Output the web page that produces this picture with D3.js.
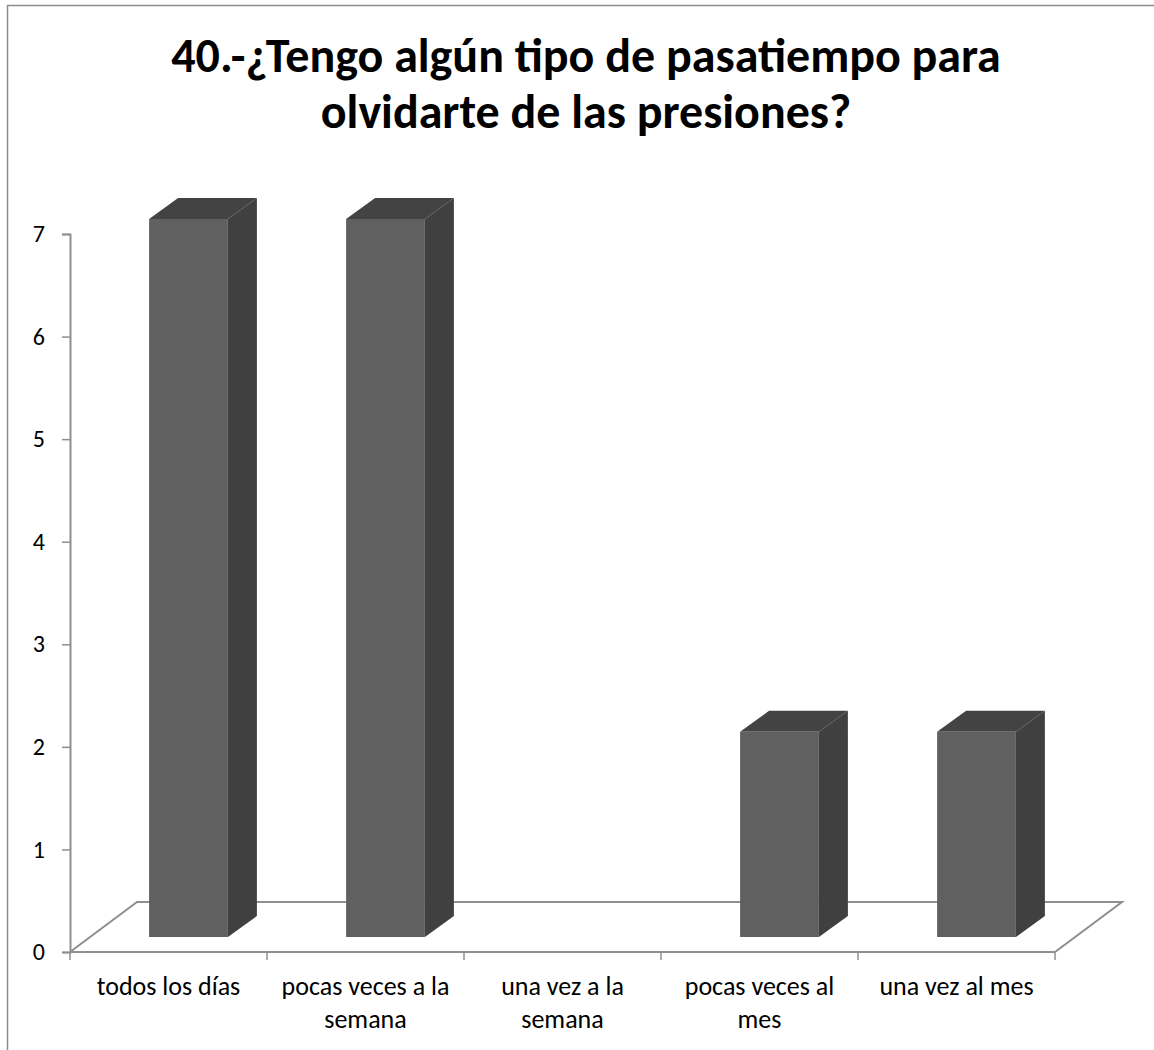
<!DOCTYPE html>
<html>
<head>
<meta charset="utf-8">
<script src="https://cdn.jsdelivr.net/npm/d3@7"></script>
<style>
  html, body { margin: 0; padding: 0; background: #fff; }
  svg { display: block; }
  text { font-family: Calibri, Carlito, Lato, sans-serif; fill: #000; }
</style>
</head>
<body>
<svg id="chart" width="1154" height="1050"></svg>
<script>
// Survey question 40: answer categories and number of responses
const categories = ["todos los días", "pocas veces a la semana", "una vez a la semana", "pocas veces al mes", "una vez al mes"];
const counts = [7, 7, 0, 2, 2];
const yTicks = [0, 1, 2, 3, 4, 5, 6, 7];
const titleLines = ["40.-¿Tengo algún tipo de pasatiempo para", "olvidarte de las presiones?"];

const svg = d3.select("#chart");
const fontStack = "Calibri, Carlito, Lato, sans-serif";

// chart area frame
svg.append("rect")
  .attr("x", 7.5).attr("y", 5.5)
  .attr("width", 1200).attr("height", 1100)
  .attr("fill", "none").attr("stroke", "#8c8c8c").attr("stroke-width", 1.5);

// title
svg.append("text")
  .attr("x", 586).attr("y", 72)
  .attr("text-anchor", "middle")
  .style("font-weight", "bold").style("font-size", "48px")
  .selectAll("tspan").data(titleLines).join("tspan")
  .attr("x", 586).attr("dy", (d, i) => i === 0 ? 0 : 56)
  .text(d => d);

// plot geometry
const plotLeft = 70, plotRight = 1055, plotBottom = 952, plotTop = 234;
const floorDepth = { dx: 67, dy: -50 };   // oblique depth of the floor
const barOffset = { dx: 20, dy: -15 };    // where the bar fronts sit inside the floor
const barDepth = { dx: 29, dy: -21 };     // depth of each bar box

const x = d3.scaleBand().domain(categories).range([plotLeft, plotRight])
  .paddingInner(0.6).paddingOuter(0.3);
const y = d3.scaleLinear().domain([0, 7]).range([plotBottom, plotTop]);

const axisColor = "#8f8f8f";

// floor
svg.append("path")
  .attr("d", d3.line()([
    [plotLeft, plotBottom], [plotRight, plotBottom],
    [plotRight + floorDepth.dx, plotBottom + floorDepth.dy],
    [plotLeft + floorDepth.dx, plotBottom + floorDepth.dy],
    [plotLeft, plotBottom]
  ]))
  .attr("fill", "none").attr("stroke", axisColor).attr("stroke-width", 2);

// y axis
const yAxis = svg.append("g")
  .attr("transform", `translate(${plotLeft},0)`)
  .call(d3.axisLeft(y).tickValues(yTicks).tickFormat(d3.format("d")).tickSize(8).tickPadding(17));
yAxis.select(".domain").attr("stroke", axisColor).attr("stroke-width", 2);
yAxis.selectAll(".tick line").attr("stroke", axisColor).attr("stroke-width", 1.5);
yAxis.selectAll(".tick text").style("font-size", "24px").attr("fill", "#000")
  .style("font-family", fontStack);

// x axis: tick marks between categories
const xBounds = d3.range(categories.length + 1).map(i => plotLeft + i * x.step());
svg.append("g").selectAll("line").data(xBounds).join("line")
  .attr("x1", d => d).attr("x2", d => d)
  .attr("y1", plotBottom).attr("y2", plotBottom + 8)
  .attr("stroke", axisColor).attr("stroke-width", 1.5);

// category labels, wrapped to the band width
const labelWidth = 170;
const labels = svg.append("g").selectAll("text").data(categories).join("text")
  .attr("text-anchor", "middle")
  .style("font-size", "26px")
  .attr("x", d => x(d) + x.bandwidth() / 2)
  .attr("y", 995);
labels.each(function (d) {
  const t = d3.select(this);
  const cx = x(d) + x.bandwidth() / 2;
  const words = d.split(" ");
  let line = [];
  let tspan = t.append("tspan").attr("x", cx).attr("dy", 0);
  for (const w of words) {
    line.push(w);
    tspan.text(line.join(" "));
    if (tspan.node().getComputedTextLength() > labelWidth && line.length > 1) {
      line.pop();
      tspan.text(line.join(" "));
      line = [w];
      tspan = t.append("tspan").attr("x", cx).attr("dy", 33).text(w);
    }
  }
});

// 3D bars: front, side and top faces
const data = categories.map((c, i) => ({ cat: c, value: counts[i] })).filter(d => d.value > 0);
const bars = svg.append("g").selectAll("g").data(data).join("g");

const geom = d => {
  const x0 = x(d.cat) + barOffset.dx;
  const x1 = x0 + x.bandwidth();
  const yB = y(0) + barOffset.dy;
  const yT = y(d.value) + barOffset.dy;
  return { x0, x1, yB, yT };
};

bars.append("path")
  .attr("d", d => {
    const g = geom(d);
    return d3.line()([[g.x1, g.yT], [g.x1 + barDepth.dx, g.yT + barDepth.dy],
      [g.x1 + barDepth.dx, g.yB + barDepth.dy], [g.x1, g.yB]]) + "Z";
  })
  .attr("fill", "#404040");

bars.append("path")
  .attr("d", d => {
    const g = geom(d);
    return d3.line()([[g.x0, g.yT], [g.x0 + barDepth.dx, g.yT + barDepth.dy],
      [g.x1 + barDepth.dx, g.yT + barDepth.dy], [g.x1, g.yT]]) + "Z";
  })
  .attr("fill", "#434343");

bars.append("rect")
  .attr("x", d => geom(d).x0)
  .attr("y", d => geom(d).yT)
  .attr("width", x.bandwidth())
  .attr("height", d => geom(d).yB - geom(d).yT)
  .attr("fill", "#606060");
</script>
</body>
</html>
